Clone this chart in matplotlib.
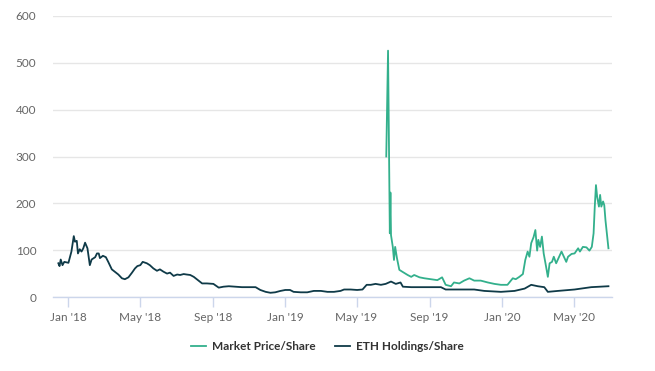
import matplotlib
matplotlib.use("Agg")
import matplotlib.pyplot as plt
import matplotlib.dates as mdates
import pandas as pd

plt.rcParams['font.family'] = ['Lato', 'DejaVu Sans']

eth_dates = [
    "2017-12-15", "2017-12-17", "2017-12-19", "2017-12-22", "2017-12-25", "2018-01-01",
    "2018-01-06", "2018-01-10", "2018-01-12", "2018-01-15", "2018-01-17", "2018-01-20",
    "2018-01-23", "2018-01-26", "2018-01-29", "2018-02-02", "2018-02-06", "2018-02-09",
    "2018-02-15", "2018-02-18", "2018-02-21", "2018-02-23", "2018-02-28", "2018-03-05",
    "2018-03-09", "2018-03-15", "2018-03-20", "2018-03-26", "2018-04-01", "2018-04-06",
    "2018-04-12", "2018-04-18", "2018-04-23", "2018-04-27", "2018-05-02", "2018-05-06",
    "2018-05-13", "2018-05-18", "2018-05-24", "2018-05-30", "2018-06-04", "2018-06-10",
    "2018-06-16", "2018-06-21", "2018-06-27", "2018-07-03", "2018-07-08", "2018-07-14",
    "2018-07-19", "2018-07-25", "2018-07-31", "2018-08-05", "2018-08-14", "2018-08-22",
    "2018-09-02", "2018-09-11", "2018-09-19", "2018-09-28", "2018-10-09", "2018-10-20",
    "2018-10-31", "2018-11-12", "2018-11-20", "2018-11-29", "2018-12-07", "2018-12-15",
    "2018-12-24", "2019-01-01", "2019-01-09", "2019-01-15", "2019-01-27", "2019-02-07",
    "2019-02-18", "2019-03-02", "2019-03-13", "2019-03-24", "2019-04-04", "2019-04-10",
    "2019-04-21", "2019-05-02", "2019-05-11", "2019-05-18", "2019-05-25", "2019-06-02",
    "2019-06-11", "2019-06-19", "2019-06-28", "2019-07-06", "2019-07-14", "2019-07-18",
    "2019-08-01", "2019-08-23", "2019-09-20", "2019-09-28", "2019-10-18", "2019-11-15",
    "2019-12-02", "2019-12-30", "2020-01-22", "2020-02-08", "2020-02-19", "2020-03-01",
    "2020-03-12", "2020-03-18", "2020-04-04", "2020-05-02", "2020-05-30", "2020-06-28",
]
eth_values = [
    72, 66, 80, 68, 75, 73,
    97, 130, 118, 120, 93, 102,
    97, 104, 116, 104, 68, 80,
    85, 93, 93, 83, 88, 85,
    75, 59, 54, 48, 40, 38,
    42, 52, 61, 66, 68, 75,
    72, 68, 61, 56, 59, 54,
    50, 52, 45, 48, 47, 49,
    48, 47, 43, 38, 29, 29,
    28, 20, 22, 23, 22, 21,
    21, 21, 15, 11, 9, 10,
    13, 15, 15, 11, 10, 10,
    13, 13, 11, 11, 13, 16,
    16, 15, 16, 26, 26, 28,
    26, 28, 33, 28, 31, 22,
    21, 21, 21, 16, 16, 16,
    13, 11, 13, 18, 26, 23,
    21, 11, 13, 16, 21, 23,
]

mkt_dates = [
    "2019-06-20", "2019-06-23", "2019-06-26", "2019-06-27", "2019-06-28", "2019-07-01",
    "2019-07-03", "2019-07-05", "2019-07-08", "2019-07-12", "2019-07-17", "2019-07-26",
    "2019-08-01", "2019-08-06", "2019-08-15", "2019-08-23", "2019-09-03", "2019-09-14",
    "2019-09-22", "2019-09-28", "2019-10-07", "2019-10-12", "2019-10-21", "2019-10-29",
    "2019-11-07", "2019-11-15", "2019-11-26", "2019-12-08", "2019-12-19", "2019-12-30",
    "2020-01-10", "2020-01-19", "2020-01-24", "2020-01-30", "2020-02-05", "2020-02-09",
    "2020-02-13", "2020-02-16", "2020-02-19", "2020-02-23", "2020-02-26", "2020-02-29",
    "2020-03-02", "2020-03-05", "2020-03-08", "2020-03-11", "2020-03-15", "2020-03-18",
    "2020-03-21", "2020-03-25", "2020-03-28", "2020-04-01", "2020-04-06", "2020-04-10",
    "2020-04-14", "2020-04-18", "2020-04-21", "2020-04-27", "2020-05-02", "2020-05-08",
    "2020-05-11", "2020-05-16", "2020-05-22", "2020-05-27", "2020-05-31", "2020-06-03",
    "2020-06-05", "2020-06-07", "2020-06-09", "2020-06-12", "2020-06-14", "2020-06-16",
    "2020-06-19", "2020-06-21", "2020-06-23", "2020-06-28",
]
mkt_values = [
    300, 526, 136, 223, 132, 107,
    79, 107, 83, 58, 54, 47,
    43, 47, 42, 40, 38, 36,
    42, 26, 23, 31, 29, 35,
    40, 35, 35, 31, 28, 26,
    26, 40, 38, 43, 49, 79,
    97, 86, 115, 128, 143, 99,
    122, 107, 129, 93, 65, 43,
    72, 75, 86, 72, 86, 97,
    86, 75, 86, 92, 93, 104,
    97, 107, 106, 99, 107, 136,
    193, 239, 214, 193, 218, 193,
    204, 196, 164, 104,
]

y_ticks = [0, 100, 200, 300, 400, 500, 600]
x_tick_dates = ["2018-01-01", "2018-05-01", "2018-09-01", "2019-01-01",
                "2019-05-01", "2019-09-01", "2020-01-01", "2020-05-01"]
x_tick_labels = ["Jan '18", "May '18", "Sep '18", "Jan '19",
                 "May '19", "Sep '19", "Jan '20", "May '20"]

series_names = ["Market Price/Share", "ETH Holdings/Share"]
mkt_color = "#33b08c"
eth_color = "#0f3a48"

fig = plt.figure(figsize=(6.55, 3.71), dpi=100)
ax = fig.add_axes([53/655, 1 - 297/371, (612 - 53)/655, (297 - 16)/371])

ax.plot(pd.to_datetime(mkt_dates), mkt_values, color=mkt_color, lw=1.3,
        label=series_names[0], zorder=3)
ax.plot(pd.to_datetime(eth_dates), eth_values, color=eth_color, lw=1.3,
        label=series_names[1], zorder=4)

ax.set_ylim(0, 600)
ax.set_yticks(y_ticks)
ax.set_xlim(pd.Timestamp("2017-12-06"), pd.Timestamp("2020-07-04"))
ax.set_xticks(pd.to_datetime(x_tick_dates))
ax.set_xticklabels(x_tick_labels)

ax.grid(axis='y', color='#e6e6e6', lw=1)
ax.set_axisbelow(True)
for s in ['top', 'right', 'left']:
    ax.spines[s].set_visible(False)
ax.spines['bottom'].set_color('#ccd6eb')
ax.spines['bottom'].set_linewidth(1)
ax.tick_params(axis='y', length=0, pad=12, labelsize=8.5, labelcolor='#666666')
ax.tick_params(axis='x', length=7, width=1, color='#ccd6eb', pad=4,
               labelsize=8.5, labelcolor='#666666')

leg = fig.legend(loc='center', bbox_to_anchor=(0.5, 1 - 347/371), ncol=2,
                 frameon=False, handlelength=1.3, handletextpad=0.5,
                 columnspacing=1.6, prop={'weight': 'bold', 'size': 8.5})
for t in leg.get_texts():
    t.set_color('#333333')

fig.savefig("out.png", dpi=100)
